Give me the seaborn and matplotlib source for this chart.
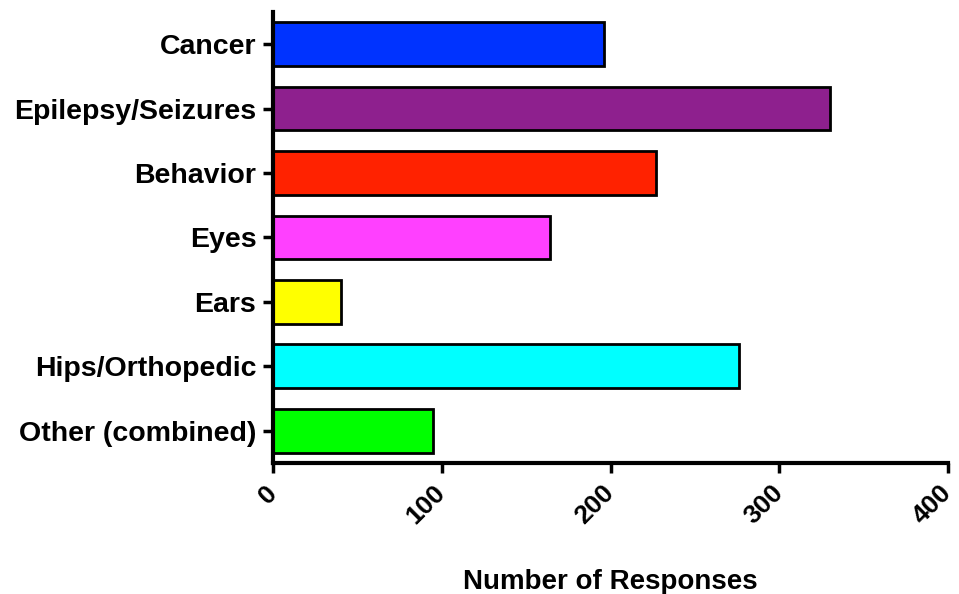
import seaborn as sns
import pandas as pd
import matplotlib
import matplotlib.pyplot as plt

matplotlib.use('Agg')

# Data
categories = ['Cancer', 'Epilepsy/Seizures', 'Behavior', 'Eyes', 'Ears',
              'Hips/Orthopedic', 'Other (combined)']
responses = [196, 330, 227, 164, 40, 276, 95]
bar_colors = ['#0033FF', '#8E208E', '#FF2200', '#FF40FF', '#FFFF00',
              '#00FFFF', '#00FF00']
x_ticks = [0, 100, 200, 300, 400]

df = pd.DataFrame({'category': categories, 'responses': responses})

sns.set_style('ticks', {'axes.edgecolor': 'black', 'text.color': 'black',
                        'xtick.color': 'black', 'ytick.color': 'black',
                        'axes.labelcolor': 'black'})
plt.rcParams['font.family'] = ['Liberation Sans', 'DejaVu Sans']

fig = plt.figure(figsize=(9.59, 5.94), dpi=100)
ax = fig.add_axes([0.2847, 0.2205, 0.7039, 0.7595])

sns.barplot(data=df, x='responses', y='category', hue='category',
            palette=bar_colors, order=categories, hue_order=categories,
            orient='h', width=0.68, edgecolor='black', linewidth=2,
            saturation=1, legend=False, ax=ax)

ax.set_xlim(0, 400)
ax.set_ylim(6.5, -0.5)
ax.set_xticks(x_ticks)
ax.set_xticklabels([str(t) for t in x_ticks], rotation=45, ha='right',
                   va='center', rotation_mode='anchor', fontsize=19,
                   fontweight='bold')
ax.set_yticks(range(len(categories)))
ax.set_yticklabels(categories, fontsize=20.5, fontweight='bold')
ax.set_xlabel('Number of Responses', fontsize=20, fontweight='bold', labelpad=29)
ax.set_ylabel('')

sns.despine(ax=ax)
for side in ['left', 'bottom']:
    ax.spines[side].set_linewidth(3)
ax.tick_params(axis='both', direction='out', length=7, width=2.5)
ax.tick_params(axis='y', pad=5)
ax.tick_params(axis='x', pad=12)

fig.savefig('out.png', dpi=100)
